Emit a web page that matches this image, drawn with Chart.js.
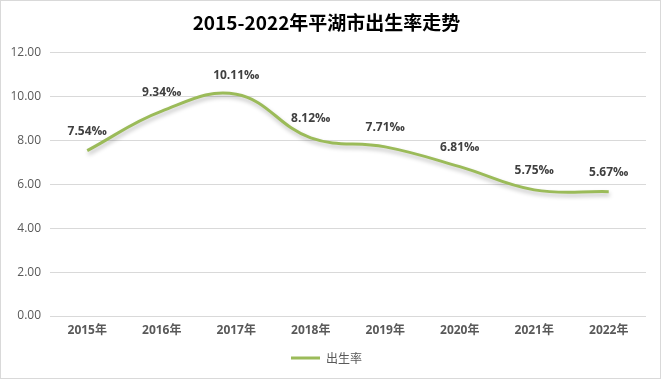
<!DOCTYPE html>
<html><head><meta charset="utf-8">
<script src="https://cdn.jsdelivr.net/npm/chart.js@4/dist/chart.umd.min.js"></script>
<style>
html,body{margin:0;padding:0;background:#fff;}
#wrap{position:absolute;left:0;top:0;width:661px;height:379px;box-sizing:border-box;border:1px solid #d9d9d9;}
canvas{display:block;}
</style></head><body>
<div id="wrap"><canvas id="c" width="659" height="377"></canvas></div>
<script>
const categories = ['2015年','2016年','2017年','2018年','2019年','2020年','2021年','2022年'];
const birthRate = [7.54, 9.34, 10.11, 8.12, 7.71, 6.81, 5.75, 5.67];
const labelText = ['7.54‰','9.34‰','10.11‰','8.12‰','7.71‰','6.81‰','5.75‰','5.67‰'];
const yTicks = [0, 2, 4, 6, 8, 10, 12];

const dataLabels = {
  id: 'dataLabels',
  afterDatasetsDraw(chart) {
    const ctx = chart.ctx;
    const meta = chart.getDatasetMeta(0);
    ctx.save();
    ctx.font = 'bold 12px "Open Sans", "Noto Sans", sans-serif';
    ctx.fillStyle = '#404040';
    ctx.textAlign = 'center';
    ctx.textBaseline = 'middle';
    meta.data.forEach((pt, i) => {
      ctx.fillText(labelText[i], pt.x, pt.y - 19);
    });
    ctx.restore();
  }
};
const shadow = {
  id: 'shadow',
  beforeDatasetDraw(chart) {
    const ctx = chart.ctx;
    ctx.save();
    ctx.shadowColor = 'rgba(0,0,0,0.25)';
    ctx.shadowBlur = 4;
    ctx.shadowOffsetX = 1;
    ctx.shadowOffsetY = 3;
  },
  afterDatasetDraw(chart) { chart.ctx.restore(); }
};

new Chart(document.getElementById('c'), {
  type: 'line',
  data: {
    labels: categories,
    datasets: [{
      label: '出生率',
      data: birthRate,
      borderColor: '#9bbb59',
      backgroundColor: '#9bbb59',
      borderWidth: 3,
      pointRadius: 0,
      pointHoverRadius: 0,
      tension: 0.4,
      fill: false
    }]
  },
  options: {
    responsive: false,
    animation: false,
    devicePixelRatio: 1,
    layout: { padding: { left: 6, right: 14, top: 4, bottom: 4 } },
    plugins: {
      title: {
        display: true,
        text: '2015-2022年平湖市出生率走势',
        color: '#000',
        font: { size: 19, weight: 'bold', family: '"Noto Sans CJK SC", sans-serif' },
        padding: { top: 6, bottom: 19 }
      },
      legend: {
        display: true,
        position: 'bottom',
        labels: {
          usePointStyle: true,
          pointStyle: 'line',
          pointStyleWidth: 29,
          color: '#595959',
          font: { size: 12, family: '"Noto Sans CJK SC", sans-serif' },
          padding: 8
        }
      },
      tooltip: { enabled: false }
    },
    scales: {
      x: {
        offset: true,
        afterFit(axis) { axis.height = 28; },
        grid: { display: false, drawTicks: false },
        border: { display: false },
        ticks: {
          color: '#595959',
          font: { size: 12, weight: 'bold', family: '"Open Sans", "Noto Sans CJK SC", sans-serif' },
          padding: 7,
          maxRotation: 0
        }
      },
      y: {
        min: 0, max: 12,
        afterBuildTicks(axis) { axis.ticks = yTicks.map(v => ({ value: v })); },
        afterFit(axis) { axis.width = 43; },
        grid: { color: '#d9d9d9', lineWidth: 1, drawTicks: false },
        border: { display: false },
        ticks: {
          color: '#595959',
          font: { size: 12, family: '"Open Sans", sans-serif' },
          padding: 9,
          callback: v => Number(v).toFixed(2)
        }
      }
    }
  },
  plugins: [shadow, dataLabels]
});
</script>
</body></html>
